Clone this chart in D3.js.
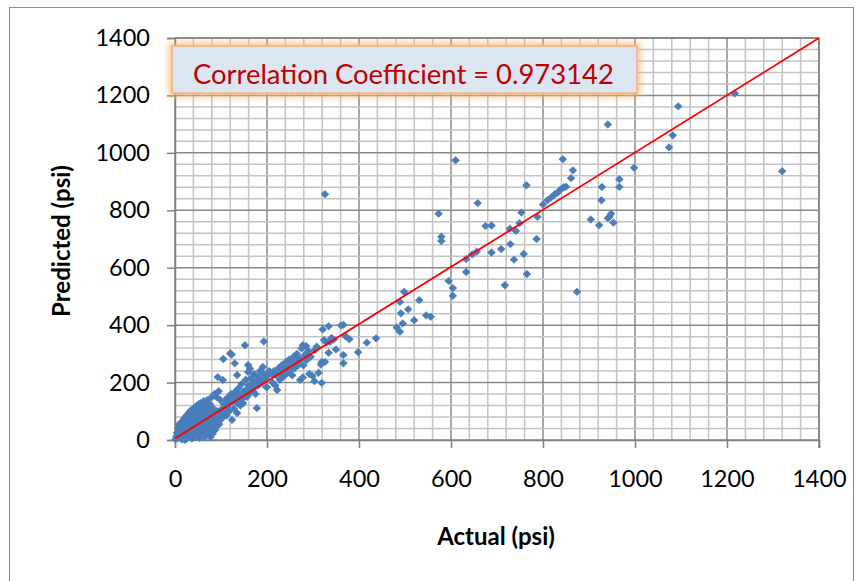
<!DOCTYPE html>
<html><head><meta charset="utf-8">
<script src="https://cdn.jsdelivr.net/npm/d3@7/dist/d3.min.js"></script>
<style>body{margin:0;background:#fff;}svg{display:block;}</style>
</head><body>
<svg id="c" width="862" height="581"></svg>
<script>
// ---- data (actual psi, predicted psi) ----
const actual = [
1,3,4,6,7,8,9,10,11,12,13,14,15,16,17,18,19,20,
21,22,23,24,25,26,27,28,29,30,31,32,33,34,35,36,37,38,39,40,
41,42,43,44,45,46,47,48,49,50,51,52,53,54,55,56,57,58,59,60,
61,62,63,64,65,66,67,68,69,70,71,72,73,74,75,76,77,78,79,80,
81,82,83,84,85,86,87,88,89,90,91,92,93,94,95,96,97,98,99,100,
102,104,105,106,108,110,112,114,116,118,120,120,122,123,124,126,128,130,132,134,135,135,
105,110,115,125,130,140,145,150,155,165,170,175,185,
138,140,142,145,148,150,152,154,156,159,159,160,163,163,165,168,170,172,175,178,178,180,182,185,188,191,192,193,195,198,200,202,205,
210,212,215,218,220,222,225,228,230,232,235,238,240,242,245,248,250,252,255,258,260,262,265,268,270,272,272,275,278,278,279,282,285,286,286,290,292,295,299,303,304,308,312,317,319,319,321,324,326,330,334,334,337,340,345,350,361,366,366,366,370,379,398,417,437,
326,482,489,489,491,495,498,507,520,531,546,556,
573,579,579,595,604,604,610,633,633,646,656,658,675,688,688,709,717,728,729,737,741,749,753,758,764,765,786,788,
800,810,818,825,832,838,845,850,843,861,865,874,904,922,927,928,941,944,948,953,941,966,966,998,1074,1082,1094,1217,1320
];
const predicted = [
3,12,25,6,40,18,52,30,58,8,20,42,2,65,30,50,12,75,
38,0,58,22,85,45,8,68,30,95,52,15,78,38,104,60,5,88,25,70,
110,45,12,95,32,118,60,80,20,105,50,125,8,72,35,128,90,55,18,112,
40,135,75,10,98,58,28,120,85,139,42,17,105,65,30,125,10,88,50,150,
70,22,110,45,95,160,35,75,60,150,48,100,219,80,170,55,90,140,70,105,
76,209,282,125,95,140,85,115,150,100,302,130,160,298,70,145,110,267,170,130,94,226,
110,120,125,135,150,140,160,150,175,185,170,200,205,
180,155,120,195,128,170,330,210,150,261,237,190,163,249,215,180,200,230,160,111,209,190,220,240,200,254,232,343,215,185,184,225,240,
230,200,240,190,225,174,250,210,235,260,220,245,270,230,255,280,240,265,225,290,250,275,300,260,285,209,278,319,218,330,260,295,327,302,278,310,230,290,223,205,313,325,234,263,272,199,385,348,272,340,396,304,342,355,350,315,399,401,296,267,362,351,306,339,354,
856,392,377,481,441,406,516,455,417,487,434,429,
788,708,693,554,529,502,974,630,585,646,656,825,745,747,653,665,539,736,682,628,728,755,792,648,887,578,700,777,
820,835,845,855,862,872,880,882,978,912,939,516,768,748,835,881,772,777,788,757,1099,908,881,948,1019,1061,1162,1207,936
];
const xTicks = [0,200,400,600,800,1000,1200,1400];
const yTicks = [0,200,400,600,800,1000,1200,1400];
const fitLine = [[0,5],[1400,1400]];
const annotation = "Correlation Coefficient = 0.973142";
const xTitle = "Actual (psi)";
const yTitle = "Predicted (psi)";

const svg = d3.select("#c");
const L = 175, R = 819, T = 38, B = 440;
const x = d3.scaleLinear().domain([0,1400]).range([L,R]);
const y = d3.scaleLinear().domain([0,1400]).range([B,T]);
const FONT = "Lato, 'Open Sans', sans-serif";

// outer border
svg.append("rect").attr("x",9.5).attr("y",7.5).attr("width",844).attr("height",590)
  .attr("fill","#fff").attr("stroke","#8c8c8c").attr("stroke-width",1);

// grid (minor every 40, major every 200)
const minor = d3.range(0,1401,40);
const g = svg.append("g");
g.selectAll(".vx").data(minor).join("line")
  .attr("x1",d=>x(d)).attr("x2",d=>x(d)).attr("y1",T).attr("y2",B)
  .attr("stroke",d=>d%200===0?"#8a8a8a":"#c3c3c3").attr("stroke-width",1.5);
g.selectAll(".hy").data(minor).join("line")
  .attr("y1",d=>y(d)).attr("y2",d=>y(d)).attr("x1",L).attr("x2",R)
  .attr("stroke",d=>d%200===0?"#8a8a8a":"#c3c3c3").attr("stroke-width",1.5);

// axes
const xAxis = d3.axisBottom(x).tickValues(xTicks).tickSize(8).tickPadding(22).tickFormat(d3.format("d"));
const yAxis = d3.axisLeft(y).tickValues(yTicks).tickSize(8).tickPadding(17).tickFormat(d3.format("d"));
const gx = svg.append("g").attr("transform",`translate(0,${B})`).call(xAxis);
const gy = svg.append("g").attr("transform",`translate(${L},0)`).call(yAxis);
[gx,gy].forEach(a=>{
  a.select(".domain").attr("stroke","#808080").attr("stroke-width",1.5);
  a.selectAll(".tick line").attr("stroke","#808080").attr("stroke-width",1.5);
  a.selectAll(".tick text").attr("font-family",FONT).attr("font-size",23.5).attr("fill","#000");
});
gx.selectAll(".tick text").attr("dy","0.71em");
// top & right plot border
svg.append("line").attr("x1",L).attr("x2",R).attr("y1",T).attr("y2",T).attr("stroke","#808080").attr("stroke-width",1.5);
svg.append("line").attr("x1",R).attr("x2",R).attr("y1",T).attr("y2",B+8).attr("stroke","#808080").attr("stroke-width",1.5);

// annotation box
const defs = svg.append("defs");
const f = defs.append("filter").attr("id","glow").attr("x","-20%").attr("y","-40%").attr("width","140%").attr("height","180%");
f.append("feGaussianBlur").attr("stdDeviation",3.5);
svg.append("rect").attr("x",169).attr("y",43).attr("width",471).attr("height",53)
  .attr("fill","#f9b56a").attr("opacity",0.85).attr("filter","url(#glow)");
svg.append("rect").attr("x",172).attr("y",46).attr("width",465).attr("height",47)
  .attr("fill","#dce6f2").attr("stroke","#f2b27a").attr("stroke-width",1.5);
svg.append("text").attr("x",193).attr("y",84).text(annotation)
  .attr("font-family",FONT).attr("font-size",27.4).attr("fill","#c00000");

// points
const pts = actual.map((a,i)=>[a,predicted[i]]);
svg.append("g").selectAll("path").data(pts).join("path")
  .attr("transform",d=>`translate(${x(d[0])},${y(d[1])})`)
  .attr("d","M0,-3.7L3.9,0L0,3.7L-3.9,0Z")
  .attr("fill","#4a7ebb").attr("stroke","#4a7ebb").attr("stroke-width",0.7);

// fit line
svg.append("path").datum(fitLine)
  .attr("d",d3.line().x(d=>x(d[0])).y(d=>y(d[1])))
  .attr("stroke","#ff0000").attr("stroke-width",1.8).attr("fill","none");

// titles
svg.append("text").attr("x",496).attr("y",545).attr("text-anchor","middle").text(xTitle)
  .attr("font-family",FONT).attr("font-weight","bold").attr("font-size",24);
svg.append("text").attr("transform","translate(70,241) rotate(-90)").attr("text-anchor","middle").text(yTitle)
  .attr("font-family",FONT).attr("font-weight","bold").attr("font-size",24);
</script>
</body></html>
